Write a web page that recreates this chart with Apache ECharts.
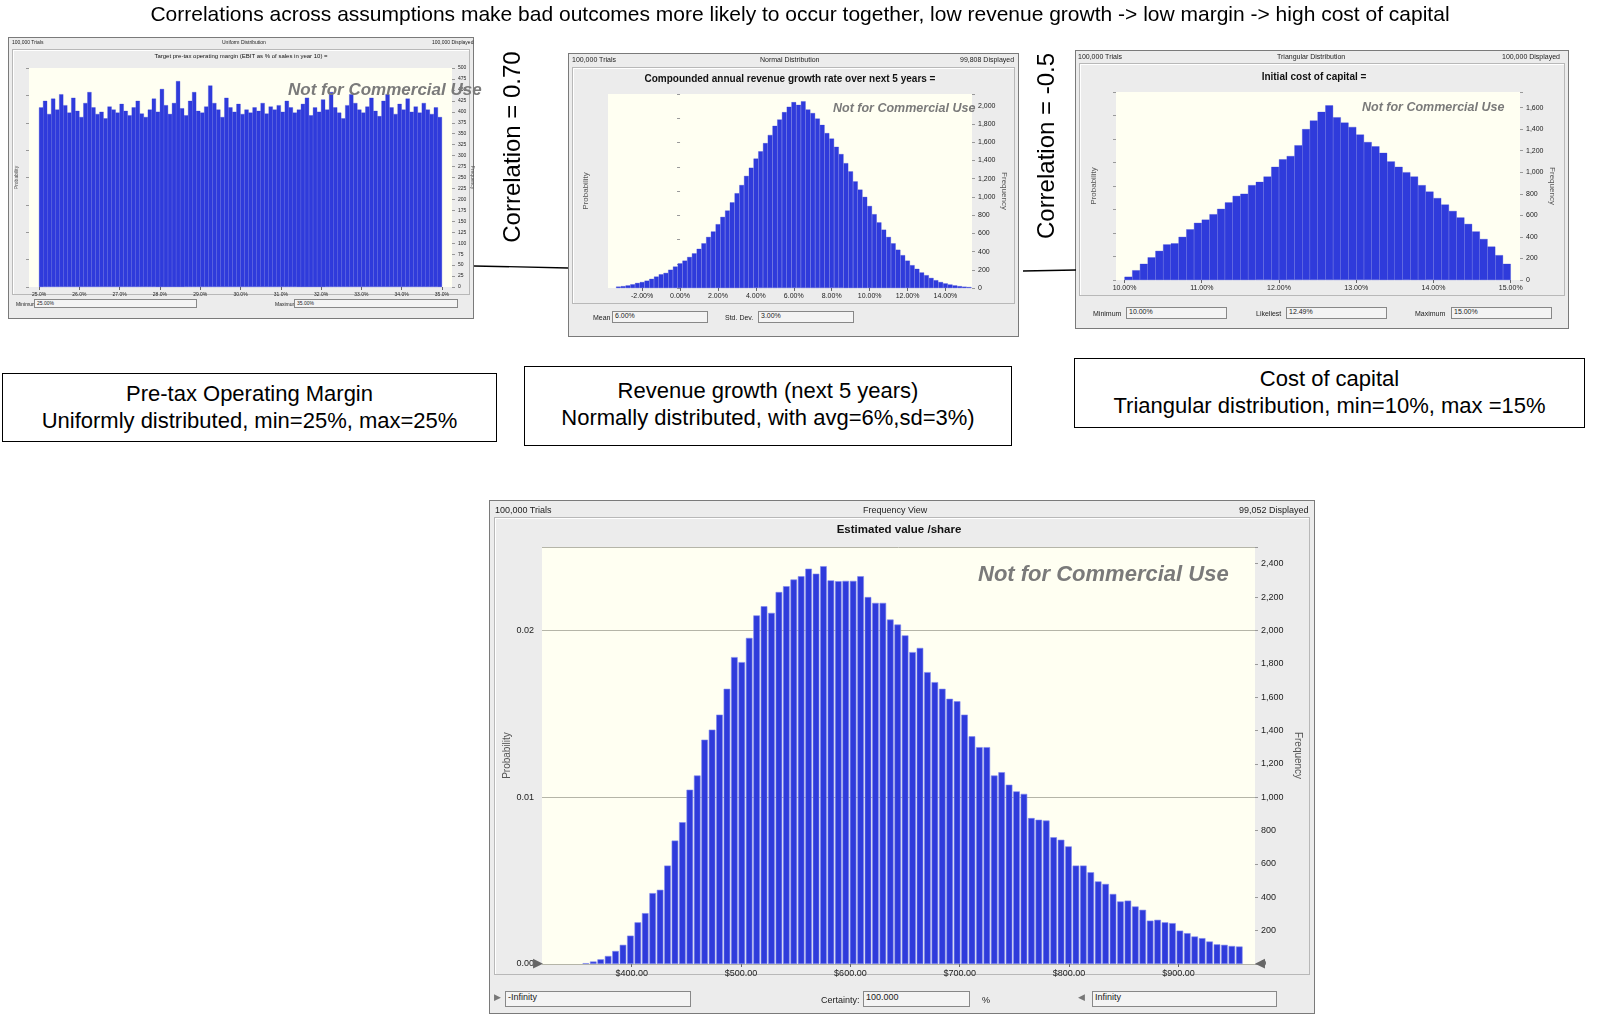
<!DOCTYPE html>
<html><head><meta charset="utf-8">
<script src="https://cdn.jsdelivr.net/npm/echarts@6/dist/echarts.min.js"></script>
<style>
body{margin:0;width:1600px;height:1015px;background:#fff;position:relative;overflow:hidden;font-family:"Liberation Sans",Arial,sans-serif}
.abs{position:absolute}
.panel{position:absolute;background:#ececec;border:1px solid #7a7a7a;box-sizing:border-box}
.inner{position:absolute;border:1px solid #b8b8b8;box-shadow:inset 1px 1px 0 #fff;box-sizing:border-box}
.hdr{position:absolute;font-size:9px;color:#222;white-space:nowrap}
.ttl{position:absolute;font-weight:bold;color:#111;white-space:nowrap;transform:translateX(-50%)}
.inp{position:absolute;background:#f4f4f4;border:1px solid #888;font-size:9px;padding-left:2px;box-sizing:border-box;color:#222}
.lbl{position:absolute;font-size:9px;color:#222;white-space:nowrap}
.wm{position:absolute;font-weight:bold;font-style:italic;color:#7a7a7a;white-space:nowrap}
.box{position:absolute;border:1.5px solid #000;box-sizing:border-box;text-align:center;font-size:22px;line-height:27px;padding-top:6px;background:#fff}
.rot{position:absolute;font-size:24px;white-space:nowrap;transform:translate(-50%,-50%) rotate(-90deg)}
#chart{position:absolute;left:0;top:0;width:1600px;height:1015px}
#over{position:absolute;left:0;top:0;width:1600px;height:1015px;pointer-events:none}
</style></head><body>

<!-- panel backgrounds -->
<div class="panel" style="left:8px;top:37px;width:466px;height:282px"></div>
<div class="inner" style="left:12px;top:49px;width:458px;height:246px"></div>
<div class="panel" style="left:568px;top:53px;width:451px;height:284px"></div>
<div class="inner" style="left:572px;top:67px;width:443px;height:237px"></div>
<div class="panel" style="left:1075px;top:50px;width:494px;height:279px"></div>
<div class="inner" style="left:1079px;top:63px;width:486px;height:233px"></div>
<div class="panel" style="left:489px;top:500px;width:826px;height:514px"></div>
<div class="inner" style="left:494px;top:517px;width:816px;height:458px"></div>

<div id="chart"></div>

<div id="over">
<div class="abs" style="left:0;top:2px;width:1600px;text-align:center;font-size:21px">Correlations across assumptions make bad outcomes more likely to occur together, low revenue growth -&gt; low margin -&gt; high cost of capital</div>

<!-- panel 1 chrome -->
<div class="hdr" style="left:12px;top:39px;font-size:5px">100,000 Trials</div>
<div class="hdr" style="left:222px;top:39px;font-size:5px">Uniform Distribution</div>
<div class="hdr" style="left:432px;top:39px;font-size:5px">100,000 Displayed</div>
<div class="ttl" style="left:241px;top:53px;font-size:6px;font-weight:normal">Target pre-tax operating margin (EBIT as % of sales in year 10) =</div>
<div class="wm" style="left:288px;top:80px;font-size:17px">Not for Commercial Use</div>
<div class="lbl" style="left:16px;top:301px;font-size:5px">Minimum</div>
<div class="inp" style="left:34px;top:299px;width:163px;height:9px;font-size:5px">25.00%</div>
<div class="lbl" style="left:275px;top:301px;font-size:5px">Maximum</div>
<div class="inp" style="left:294px;top:299px;width:164px;height:9px;font-size:5px">35.00%</div>

<!-- panel 2 chrome -->
<div class="hdr" style="left:572px;top:56px;font-size:7px">100,000 Trials</div>
<div class="hdr" style="left:760px;top:56px;font-size:7px">Normal Distribution</div>
<div class="hdr" style="left:960px;top:56px;font-size:7px">99,808 Displayed</div>
<div class="ttl" style="left:790px;top:73px;font-size:10px">Compounded annual revenue growth rate over next 5 years =</div>
<div class="wm" style="left:833px;top:101px;font-size:12.5px">Not for Commercial Use</div>
<div class="lbl" style="left:593px;top:314px;font-size:7px">Mean</div>
<div class="inp" style="left:612px;top:311px;width:96px;height:12px;font-size:7px">6.00%</div>
<div class="lbl" style="left:725px;top:314px;font-size:7px">Std. Dev.</div>
<div class="inp" style="left:758px;top:311px;width:96px;height:12px;font-size:7px">3.00%</div>

<!-- panel 3 chrome -->
<div class="hdr" style="left:1078px;top:53px;font-size:7px">100,000 Trials</div>
<div class="hdr" style="left:1277px;top:53px;font-size:7px">Triangular Distribution</div>
<div class="hdr" style="left:1502px;top:53px;font-size:7px">100,000 Displayed</div>
<div class="ttl" style="left:1314px;top:71px;font-size:10px">Initial cost of capital =</div>
<div class="wm" style="left:1362px;top:100px;font-size:12.5px">Not for Commercial Use</div>
<div class="lbl" style="left:1093px;top:310px;font-size:7px">Minimum</div>
<div class="inp" style="left:1126px;top:307px;width:101px;height:12px;font-size:7px">10.00%</div>
<div class="lbl" style="left:1256px;top:310px;font-size:7px">Likeliest</div>
<div class="inp" style="left:1286px;top:307px;width:101px;height:12px;font-size:7px">12.49%</div>
<div class="lbl" style="left:1415px;top:310px;font-size:7px">Maximum</div>
<div class="inp" style="left:1451px;top:307px;width:101px;height:12px;font-size:7px">15.00%</div>

<!-- main chrome -->
<div class="hdr" style="left:495px;top:505px">100,000 Trials</div>
<div class="hdr" style="left:863px;top:505px">Frequency View</div>
<div class="hdr" style="left:1239px;top:505px">99,052 Displayed</div>
<div class="ttl" style="left:899px;top:523px;font-size:11.5px">Estimated value /share</div>
<div class="wm" style="left:978px;top:561px;font-size:22px">Not for Commercial Use</div>
<div class="lbl" style="left:494px;top:992px;color:#777">&#9654;</div>
<div class="inp" style="left:505px;top:991px;width:186px;height:16px">-Infinity</div>
<div class="lbl" style="left:821px;top:995px">Certainty:</div>
<div class="inp" style="left:863px;top:991px;width:107px;height:16px">100.000</div>
<div class="lbl" style="left:982px;top:995px">%</div>
<div class="lbl" style="left:1078px;top:992px;color:#777">&#9664;</div>
<div class="inp" style="left:1092px;top:991px;width:185px;height:16px">Infinity</div>
<div class="lbl" style="left:533px;top:955px;font-size:13px;color:#666">&#9654;</div>
<div class="lbl" style="left:1255px;top:955px;font-size:13px;color:#666">&#9664;</div>

<!-- labels -->
<div class="box" style="left:2px;top:373px;width:495px;height:69px">Pre-tax Operating Margin<br>Uniformly distributed, min=25%, max=25%</div>
<div class="box" style="left:524px;top:366px;width:488px;height:80px;padding-top:10px">Revenue growth (next 5 years)<br>Normally distributed, with avg=6%,sd=3%)</div>
<div class="box" style="left:1074px;top:358px;width:511px;height:70px">Cost of capital<br>Triangular distribution, min=10%, max =15%</div>
<div class="rot" style="left:512px;top:147px">Correlation = 0.70</div>
<div class="rot" style="left:1046px;top:146px">Correlation = -0.5</div>
<svg class="abs" style="left:0;top:0" width="1600" height="1015">
<line x1="474" y1="266" x2="568" y2="268" stroke="#000" stroke-width="1.3"/>
<line x1="1023" y1="271" x2="1076" y2="270" stroke="#000" stroke-width="1.3"/>
</svg>
</div>

<script>
// ---------- data ----------
// Main: Estimated value/share histogram (frequency per bin)
const valueBinStart = 354.7, valueBinWidth = 6.79;
const valueFreq = [5,15,28,48,78,115,170,250,305,425,445,590,740,850,1045,1130,1345,1405,1495,1650,
 1840,1810,1955,2090,2145,2105,2230,2265,2305,2325,2370,2340,2385,2300,2295,2297,2297,2325,2200,2165,
 2165,2065,2035,1970,1870,1895,1750,1690,1650,1590,1575,1495,1365,1300,1300,1130,1150,1075,1035,1020,
 875,865,860,760,745,705,590,590,550,495,480,420,375,380,345,325,260,265,250,245,
 200,185,165,155,135,118,115,108,105];
const valueTicks = [400,500,600,700,800,900];

// Panel 1: pre-tax operating margin (uniform)
const marginBinStart = 25.0, marginBinWidth = 0.1;
const marginFreq = [410,425,395,430,405,440,415,398,432,402,388,420,445,410,395,400,385,412,405,398,
 418,402,392,410,425,396,388,405,430,400,452,415,395,420,470,408,392,425,445,402,
 398,412,460,420,405,388,432,410,400,418,395,405,398,410,402,420,396,412,405,415,
 400,425,410,398,405,418,432,392,410,400,428,405,445,410,398,385,415,440,420,405,
 398,412,432,402,390,425,440,410,395,418,405,430,400,412,398,420,405,395,410,388];
const marginTicks = [25,26,27,28,29,30,31,32,33,34,35];

// Panel 2: revenue growth (normal)
const growthBinStart = -3.375, growthBinWidth = 0.25;
const growthFreq = [15,20,28,40,55,65,80,100,125,150,165,200,235,270,300,340,380,430,490,560,
 620,700,780,850,940,1040,1130,1230,1320,1420,1500,1590,1680,1780,1850,1930,1990,2040,2010,2050,
 1960,1920,1860,1790,1700,1640,1550,1470,1370,1280,1170,1080,1000,900,810,720,640,560,490,420,
 360,300,250,210,170,140,110,85,65,50,38,28,20,14,10];
const growthTicks = [-2,0,2,4,6,8,10,12,14];

// Panel 3: cost of capital (triangular)
const costBinStart = 10.0, costBinWidth = 0.1;
const costFreq = [30,90,150,210,270,330,340,400,470,530,560,610,660,720,780,800,880,910,960,1050,
 1120,1150,1250,1400,1480,1560,1620,1510,1460,1420,1350,1280,1240,1180,1100,1050,1000,960,880,820,
 760,700,640,580,520,450,380,310,230,150];
const costTicks = [10,11,12,13,14,15];

// ---------- build ----------
function pairs(start, w, arr){ return arr.map((v,i)=>[start+(i+0.5)*w, v]); }
const fmtN = v => v.toLocaleString('en-US');
const C = {cream:'#fffff2', blue:'#2f3bdb', edge:'#8088f0', txt:'#222'};
const grids = [
 {left:542, top:547, width:713, height:417},
 {left:29, top:68, width:423, height:219},
 {left:608, top:94, width:364, height:194},
 {left:1116, top:92, width:404, height:188}
];
const xs = [
 {min:318, max:970, ticks:valueTicks, f:v=>'$'+v.toFixed(2), fs:9},
 {min:24.75, max:35.25, ticks:marginTicks, f:v=>v.toFixed(1)+'%', fs:5},
 {min:-3.8, max:15.4, ticks:growthTicks, f:v=>v.toFixed(2)+'%', fs:7},
 {min:9.89, max:15.12, ticks:costTicks, f:v=>v.toFixed(2)+'%', fs:7}
];
const ys = [
 {max:2500, iv:200, fs:9},
 {max:500, iv:25, fs:5},
 {max:2130, iv:200, fs:7},
 {max:1745, iv:200, fs:7}
];
const xAxis = xs.map((a,i)=>({type:'value', gridIndex:i, min:a.min, max:a.max,
  axisLine:{show:false}, splitLine:{show:false},
  axisTick:{show:true, customValues:a.ticks, length:3, lineStyle:{color:'#666'}},
  axisLabel:{customValues:a.ticks, formatter:a.f, fontSize:a.fs, color:C.txt, margin:5, fontFamily:'Liberation Sans Narrow, Liberation Sans'}}));
const yAxis = [];
ys.forEach((a,i)=>{
  const isMain = i===0;
  yAxis.push({type:'value', gridIndex:i, position:'left', min:0, max:a.max/100000, interval: isMain?0.01:a.max/100000/8,
    name:'Probability', nameLocation:'middle', nameRotate:90, nameGap: isMain?28:(i===1?10:18),
    nameTextStyle:{fontSize:isMain?10:(i===1?5:8), color:'#555'},
    axisLine:{show:false}, axisTick:{show:!isMain, length:3, lineStyle:{color:'#999'}},
    axisLabel:{show:isMain, fontSize:9, color:C.txt, formatter:v=>(Math.abs(v*100-Math.round(v*100))<1e-6 && v<0.0245)?v.toFixed(2):''},
    splitLine:{show:isMain, lineStyle:{color:'#b5b5a8'}}});
  yAxis.push({type:'value', gridIndex:i, position:'right', min:0, max:a.max, interval:a.iv,
    name:'Frequency', nameLocation:'middle', nameRotate:-90, nameGap: isMain?38:(i===1?14:28),
    nameTextStyle:{fontSize:isMain?10:(i===1?5:8), color:'#555'},
    axisLine:{show:false}, axisTick:{show:true, length:3, lineStyle:{color:'#999'}},
    axisLabel:{fontSize:a.fs, color:C.txt, margin:6, formatter:v=>(v%a.iv===0)?fmtN(v):''},
    splitLine:{show:false}});
});
const datasets = [
  pairs(valueBinStart, valueBinWidth, valueFreq),
  pairs(marginBinStart, marginBinWidth, marginFreq),
  pairs(growthBinStart, growthBinWidth, growthFreq),
  pairs(costBinStart, costBinWidth, costFreq)
];
const series = datasets.map((d,i)=>({type:'bar', xAxisIndex:i, yAxisIndex:i*2+1, data:d,
  barCategoryGap:'0%', barWidth: i===0? 6.6 : (i===1? 4.1 : (i===2? 4.6 : 7.7)),
  itemStyle:{color:C.blue, borderColor: i===0? C.edge : C.blue, borderWidth: i===0?0.6:0.3},
  silent:true, animation:false}));

const chart = echarts.init(document.getElementById('chart'), null, {renderer:'canvas'});
chart.setOption({
  backgroundColor:'transparent', animation:false,
  grid: grids.map(g=>Object.assign({show:true, backgroundColor:C.cream, borderWidth:0}, g)),
  xAxis, yAxis, series
});
</script>
</body></html>
